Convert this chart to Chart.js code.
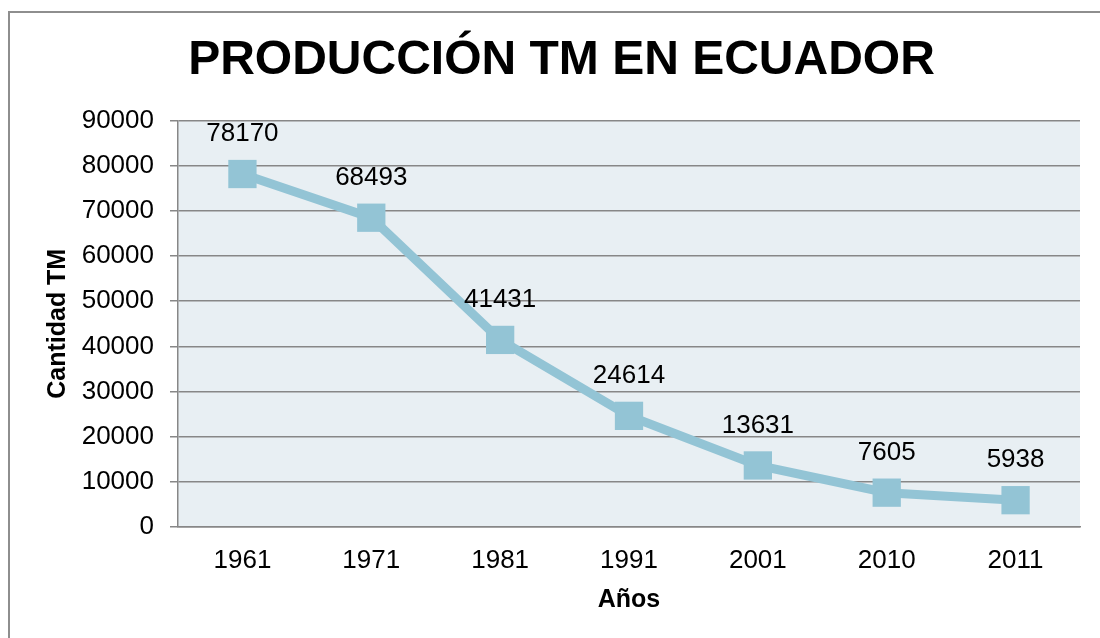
<!DOCTYPE html>
<html>
<head>
<meta charset="utf-8">
<script src="https://cdn.jsdelivr.net/npm/chart.js"></script>
<style>
  html, body { margin: 0; padding: 0; background: #fff; overflow: hidden; }
  #wrap { position: relative; width: 1100px; height: 638px; }
  #frame {
    position: absolute; left: 8px; top: 11px; width: 1200px; height: 700px;
    border-left: 2px solid #8e8e8e; border-top: 2px solid #8e8e8e;
  }
  #chart { position: absolute; left: 0; top: 0; }
</style>
</head>
<body>
<div id="wrap">
  <div id="frame"></div>
  <canvas id="chart" width="1100" height="638"></canvas>
</div>
<script>
// chart data
const years = ["1961", "1971", "1981", "1991", "2001", "2010", "2011"];
const production = [78170, 68493, 41431, 24614, 13631, 7605, 5938];
const yMax = 90000;
const yStep = 10000;

const FONT = "'Liberation Sans', Arial, sans-serif";
const GRID = "#878787";
const LINE = "#93c4d5";

// light plot background
const plotBackground = {
  id: "plotBackground",
  beforeDraw: function (chart) {
    const a = chart.chartArea;
    const ctx = chart.ctx;
    ctx.save();
    ctx.fillStyle = "#e8eff3";
    ctx.fillRect(a.left, a.top, a.right - a.left, a.bottom - a.top);
    ctx.restore();
  }
};

// value labels above each point
const valueLabels = {
  id: "valueLabels",
  afterDatasetsDraw: function (chart) {
    const ctx = chart.ctx;
    const meta = chart.getDatasetMeta(0);
    ctx.save();
    ctx.font = "26px " + FONT;
    ctx.fillStyle = "#000";
    ctx.textAlign = "center";
    ctx.textBaseline = "middle";
    meta.data.forEach(function (pt, i) {
      ctx.fillText(String(production[i]), pt.x, pt.y - 40);
    });
    ctx.restore();
  }
};

new Chart(document.getElementById("chart"), {
  type: "line",
  data: {
    labels: years,
    datasets: [
      {
        data: production,
        borderColor: LINE,
        borderWidth: 9,
        tension: 0,
        pointStyle: "rect",
        pointRadius: 20,
        pointHoverRadius: 20,
        pointBackgroundColor: LINE,
        pointBorderWidth: 0,
        clip: false
      }
    ]
  },
  options: {
    responsive: false,
    animation: false,
    devicePixelRatio: 1,
    layout: { padding: { left: 40, right: 17, top: 0, bottom: 0 } },
    plugins: {
      legend: { display: false },
      tooltip: { enabled: false },
      title: {
        display: true,
        text: "PRODUCCIÓN TM EN ECUADOR",
        color: "#000",
        font: { family: FONT, size: 48, weight: "bold" },
        padding: { top: 32, bottom: 31 }
      }
    },
    scales: {
      x: {
        offset: true,
        afterFit: function (scale) { scale.height = 111; },
        grid: { display: false, drawTicks: false },
        border: { display: true, color: GRID, width: 1.5 },
        ticks: { color: "#000", font: { family: FONT, size: 26 }, padding: 18 },
        title: {
          display: true,
          text: "Años",
          color: "#000",
          font: { family: FONT, size: 25, weight: "bold" },
          padding: { top: 0, bottom: 23 }
        }
      },
      y: {
        min: 0,
        max: yMax,
        afterFit: function (scale) { scale.width = 138; },
        grid: { color: GRID, lineWidth: 1.5, drawTicks: true, tickLength: 8 },
        border: { display: true, color: GRID, width: 1.5 },
        ticks: {
          stepSize: yStep,
          color: "#000",
          font: { family: FONT, size: 26 },
          padding: 16,
          callback: function (v) { return String(v); }
        },
        title: {
          display: true,
          text: "Cantidad TM",
          color: "#000",
          font: { family: FONT, size: 25, weight: "bold" },
          padding: { top: 3, bottom: 0 }
        }
      }
    }
  },
  plugins: [plotBackground, valueLabels]
});
</script>
</body>
</html>
